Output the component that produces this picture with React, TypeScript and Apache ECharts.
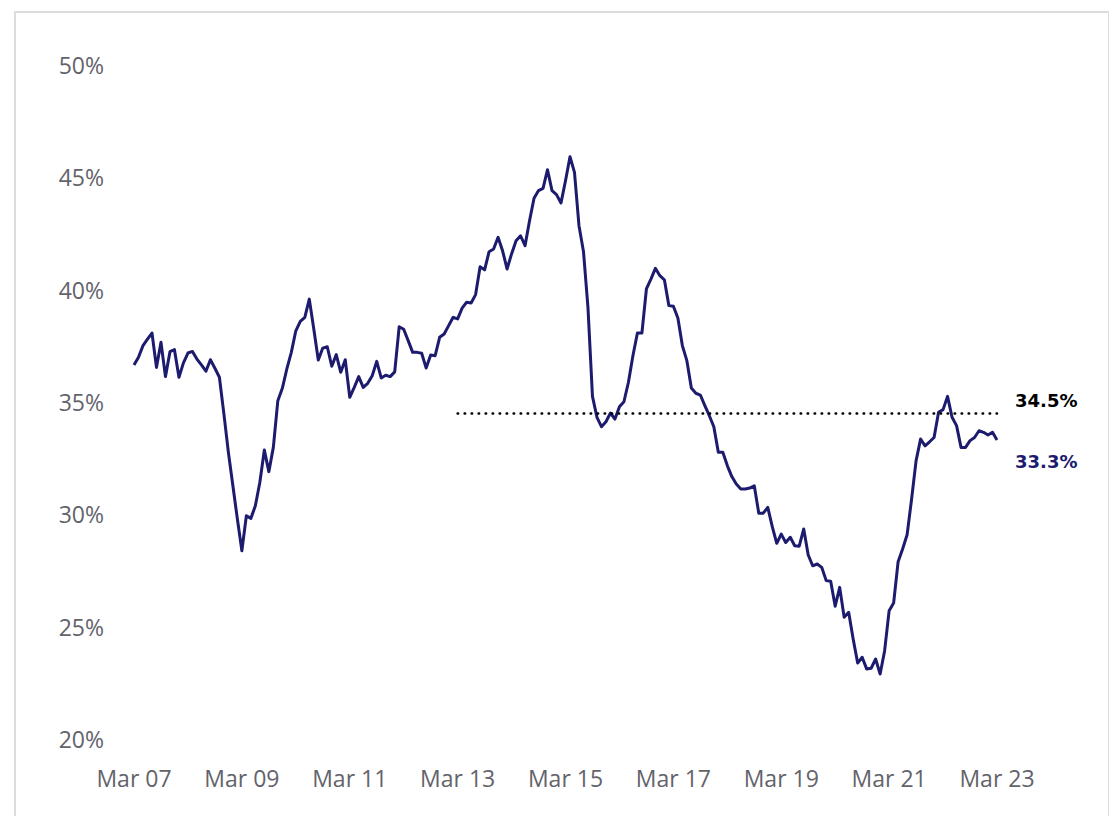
import React, { useEffect, useRef } from "react";
import * as echarts from "echarts";

// Tick labels for the x axis (every 24 months from Mar 2007)
const xTickLabels = ["Mar 07", "Mar 09", "Mar 11", "Mar 13", "Mar 15", "Mar 17", "Mar 19", "Mar 21", "Mar 23"];
const monthsPerTick = 24;

// Monthly values, Mar 2007 (index 0) to Mar 2023 (index 192), in %
const values = [
  36.65, 36.99, 37.51, 37.8, 38.07, 36.54, 37.66, 36.13, 37.24, 37.33,
  36.1, 36.74, 37.18, 37.25, 36.91, 36.65, 36.37, 36.88, 36.5, 36.1,
  34.47, 32.76, 31.27, 29.79, 28.38, 29.94, 29.82, 30.38, 31.43, 32.86,
  31.9, 32.98, 35.06, 35.61, 36.47, 37.21, 38.17, 38.59, 38.77, 39.58,
  38.25, 36.87, 37.4, 37.46, 36.59, 37.11, 36.32, 36.88, 35.21, 35.65,
  36.13, 35.65, 35.83, 36.17, 36.81, 36.07, 36.19, 36.13, 36.34, 38.35,
  38.24, 37.73, 37.21, 37.21, 37.17, 36.51, 37.09, 37.06, 37.88, 38.03,
  38.4, 38.77, 38.7, 39.18, 39.44, 39.41, 39.78, 41.02, 40.88, 41.69,
  41.81, 42.33, 41.73, 40.92, 41.59, 42.18, 42.4, 41.96, 43.07, 44.07,
  44.41, 44.51, 45.34, 44.41, 44.23, 43.86, 44.85, 45.92, 45.22, 42.85,
  41.7, 39.2, 35.25, 34.32, 33.9, 34.12, 34.51, 34.24, 34.79, 35.01,
  35.88, 37.06, 38.07, 38.07, 40.03, 40.47, 40.95, 40.62, 40.44, 39.29,
  39.26, 38.74, 37.51, 36.84, 35.62, 35.39, 35.31, 34.84, 34.39, 33.9,
  32.76, 32.76, 32.17, 31.68, 31.35, 31.13, 31.13, 31.17, 31.27, 30.05,
  30.05, 30.31, 29.45, 28.71, 29.12, 28.75, 28.98, 28.6, 28.58, 29.35,
  28.19, 27.71, 27.79, 27.64, 27.05, 27.02, 25.91, 26.75, 25.42, 25.64,
  24.45, 23.38, 23.64, 23.12, 23.15, 23.56, 22.89, 23.93, 25.71, 26.05,
  27.89, 28.46, 29.09, 30.68, 32.39, 33.35, 33.05, 33.23, 33.42, 34.54,
  34.66, 35.25, 34.32, 33.95, 32.98, 32.98, 33.28, 33.42, 33.72, 33.65,
  33.53, 33.65, 33.31,
];

// Reference (average) line
const refValue = 34.5;
const refStartMonth = 72; // Mar 2013
const refLabel = "34.5%";
const lastLabel = "33.3%";

const yMin = 20;
const yMax = 50;
const yInterval = 5;

const NAVY = "#1c1b6e";
const AXIS_GRAY = "#63636b";

export default function App() {
  const ref = useRef<HTMLDivElement>(null);

  useEffect(() => {
    if (!ref.current) return;
    const chart = echarts.init(ref.current, undefined, { renderer: "svg" });
    const lastIndex = values.length - 1;
    const xMax = lastIndex;

    chart.setOption({
      animation: false,
      grid: { left: 126, top: 57, width: 863, height: 674 },
      xAxis: {
        type: "value",
        min: 0,
        max: xMax,
        interval: monthsPerTick,
        axisLine: { show: false },
        axisTick: { show: false },
        splitLine: { show: false },
        axisLabel: {
          formatter: (v: number) => xTickLabels[Math.round(v / monthsPerTick)] ?? "",
          color: AXIS_GRAY,
          fontSize: 23,
          fontFamily: "'Open Sans', sans-serif",
          margin: 27,
        },
      },
      yAxis: {
        type: "value",
        min: yMin,
        max: yMax,
        interval: yInterval,
        axisLine: { show: false },
        axisTick: { show: false },
        splitLine: { show: false },
        axisLabel: {
          formatter: "{value}%",
          color: AXIS_GRAY,
          fontSize: 23,
          fontFamily: "'Open Sans', sans-serif",
          margin: 30,
        },
      },
      series: [
        {
          type: "line",
          data: values.map((v, i) => [i, v]),
          showSymbol: false,
          symbol: "none",
          lineStyle: { color: NAVY, width: 3, join: "round" },
          markLine: {
            silent: true,
            symbol: "none",
            label: { show: false },
            lineStyle: { color: "#000", width: 2.5, type: [0.5, 6.5], cap: "round" },
            data: [[{ coord: [refStartMonth, refValue] }, { coord: [lastIndex, refValue] }]],
          },
        },
      ],
    });

    const pRef = chart.convertToPixel({ gridIndex: 0 }, [lastIndex, refValue]) as number[];
    const pLast = chart.convertToPixel({ gridIndex: 0 }, [lastIndex, values[lastIndex]]) as number[];

    chart.setOption({
      graphic: [
        {
          type: "rect",
          silent: true,
          shape: { x: 7, y: 4, width: 1094, height: 900 },
          style: { fill: "none", stroke: "#dcdcdc", lineWidth: 2 },
        },
        {
          type: "text",
          x: pRef[0] + 18,
          y: pRef[1] - 13,
          style: {
            text: refLabel,
            fill: "#000",
            font: "bold 18px 'DejaVu Sans', sans-serif",
            verticalAlign: "middle",
            align: "left",
          },
        },
        {
          type: "text",
          x: pLast[0] + 18,
          y: pLast[1] + 21.5,
          style: {
            text: lastLabel,
            fill: NAVY,
            font: "bold 18px 'DejaVu Sans', sans-serif",
            verticalAlign: "middle",
            align: "left",
          },
        },
      ],
    });

    return () => chart.dispose();
  }, []);

  return <div ref={ref} style={{ width: 1101, height: 808 }} />;
}
